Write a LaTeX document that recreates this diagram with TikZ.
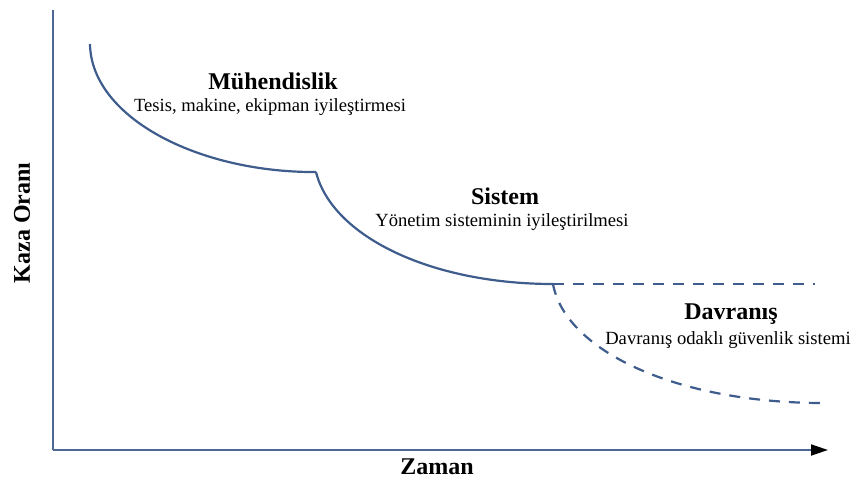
\documentclass[tikz,border=0pt]{standalone}
\usepackage{fontspec}
\setmainfont{Liberation Serif}
\usetikzlibrary{arrows.meta}
\definecolor{curveblue}{RGB}{62,92,140}
\definecolor{axisblue}{RGB}{78,104,150}
\tikzset{
  axisline/.style={draw=axisblue, line width=1.8pt},
  phase/.style={draw=curveblue, line width=2.2pt},
  phasedash/.style={phase, dash pattern=on 11pt off 9pt},
  title/.style={font=\fontsize{24}{28}\selectfont\bfseries, inner sep=0pt},
  subtitle/.style={font=\fontsize{18.6}{22}\selectfont, inner sep=0pt},
  axislabel/.style={font=\fontsize{24}{28}\selectfont\bfseries, inner sep=0pt},
}
\begin{document}
\begin{tikzpicture}[x=1pt, y=-1pt]
  \useasboundingbox (0,0) rectangle (852,481);

  % axes
  \coordinate (origin) at (53,450);
  \coordinate (ytop) at (53,10);
  \coordinate (xend) at (828,450);
  \draw[axisline] (ytop) -- (origin);
  \draw[axisline, -{Triangle[length=17pt, width=11pt, color=black, fill=black]}] (origin) -- (xend);

  \node[axislabel, rotate=90] (ylab) at (22,223) {Kaza Oranı};
  \node[axislabel] (xlab) at (437,467) {Zaman};

  % phase boundaries on the curve
  \coordinate (p0) at (90,44);
  \coordinate (p1) at (316,172);
  \coordinate (p2) at (553,284);
  \coordinate (p3) at (823,403);
  \coordinate (p4) at (815,284);

  % engineering phase
  \draw[phase] (p0) .. controls (91,115) and (192,170) .. (308,172) -- (p1);
  % system phase
  \draw[phase] (p1) .. controls (332,236) and (430,284) .. (p2);
  % behaviour phase (projected)
  \draw[phasedash] (p2) -- (p4);
  \draw[phasedash] (p2) .. controls (565,350) and (675,403) .. (p3);

  % labels
  \node[title] (t1) at (273,81) {Mühendislik};
  \node[subtitle] (s1) at (270,107) {Tesis, makine, ekipman iyileştirmesi};
  \node[title] (t2) at (505,196) {Sistem};
  \node[subtitle] (s2) at (502,222) {Yönetim sisteminin iyileştirilmesi};
  \node[title] (t3) at (731,314) {Davranış};
  \node[subtitle] (s3) at (728,340) {Davranış odaklı güvenlik sistemi};
\end{tikzpicture}
\end{document}
